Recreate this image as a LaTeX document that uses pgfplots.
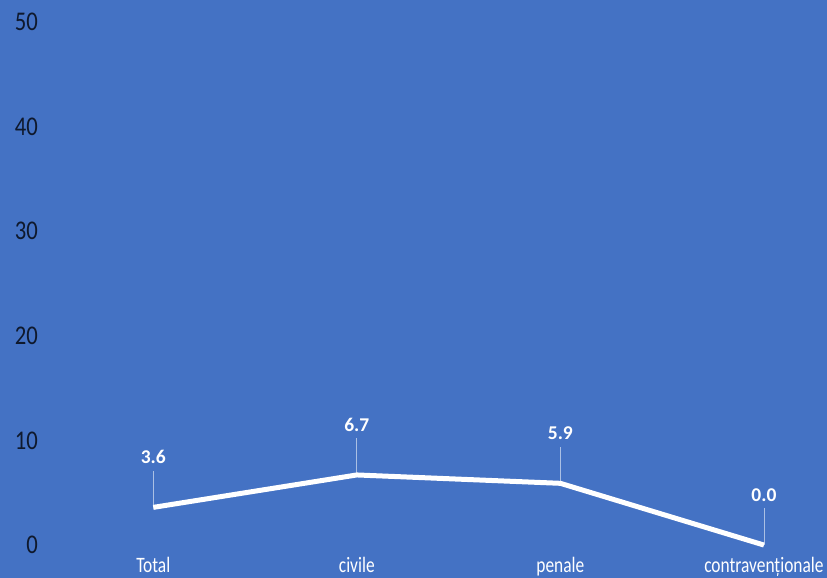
\documentclass[border=0pt]{standalone}
\usepackage{fontspec}
\setmainfont{Carlito}
\newfontfamily\ylab[FakeStretch=0.84]{Carlito}
\newfontfamily\xlab[FakeStretch=0.79]{Carlito}
\usepackage{pgfplots}
\pgfplotsset{compat=1.18}
\definecolor{bg}{HTML}{4472C4}
\definecolor{ink}{RGB}{15,25,45}
\begin{document}
\begin{tikzpicture}
\begin{axis}[
 scale only axis, width=827pt, height=578pt,
 xmin=-0.753, xmax=3.31, ymin=-3.15, ymax=52.1,
 axis background/.style={fill=bg},
 axis line style={draw=none},
 major tick length=0pt,
 xtick={0,1,2,3}, xticklabels={Total,civile,penale,contravenționale},
 ytick={0,10,20,30,40,50},
 /pgf/number format/assume math mode=true,
 yticklabel style={font=\ylab\fontsize{27}{30}\selectfont, color=ink, anchor=east, inner sep=0pt, xshift=38pt},
 xticklabel style={font=\xlab\fontsize{22}{26}\selectfont, color=white, anchor=base, inner sep=0pt, yshift=5pt},
 clip=false,
]
\addplot[draw=none, mark=none,
  error bars/.cd, y dir=plus, y fixed=3.5,
  error mark=none, error bar style={color=white!55!bg, line width=0.8pt}]
  coordinates {(0,3.6)(1,6.7)(2,5.9)(3,0.0)};
\addplot[white, line width=5pt, mark=none,
  nodes near coords={\pgfmathprintnumber[fixed,fixed zerofill,precision=1,assume math mode=true]{\pgfplotspointmeta}},
  nodes near coords align={center},
  every node near coord/.append style={font=\bfseries\fontsize{19.5}{22}\selectfont, text=white, anchor=center, yshift=50pt, inner sep=0pt},
  ] coordinates {(0,3.6)(1,6.7)(2,5.9)(3,0.0)};
\end{axis}
\pgfresetboundingbox
\path (current axis.south west) rectangle (current axis.north east);
\end{tikzpicture}
\end{document}
